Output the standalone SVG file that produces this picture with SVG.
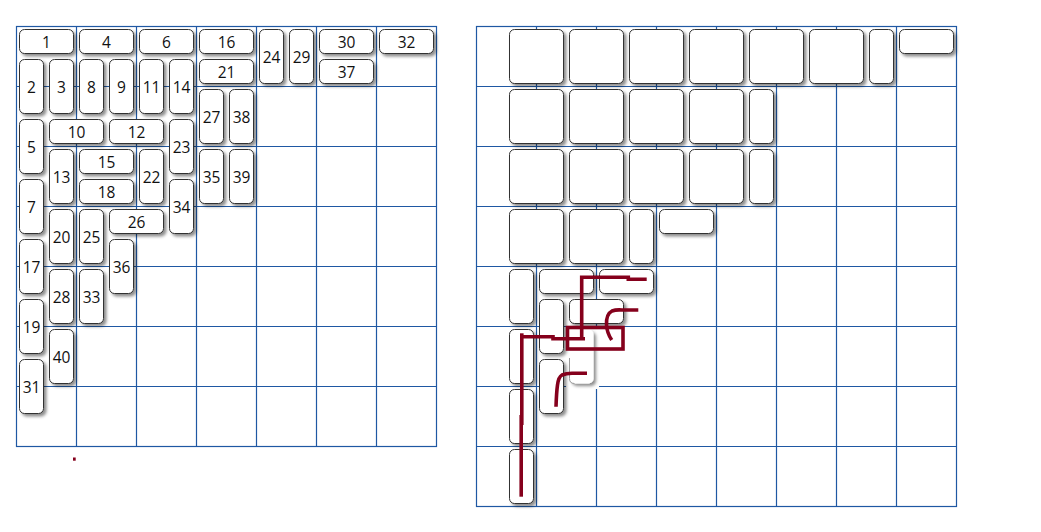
<svg xmlns="http://www.w3.org/2000/svg" width="1041" height="532" viewBox="0 0 1041 532">
<defs>
<filter id="sh" x="-30%" y="-30%" width="160%" height="160%">
<feDropShadow dx="2.5" dy="2.5" stdDeviation="1.8" flood-color="#000" flood-opacity="0.45"/>
</filter>
</defs>
<style>
.g{stroke:#1f58a3;stroke-width:1.2;fill:none}
.n rect{fill:#fff;stroke:#333;stroke-width:1;filter:url(#sh)}
.n text{font-family:"Open Sans","Liberation Sans",sans-serif;font-size:15.5px;fill:#111;text-anchor:middle}
.r{fill:none;stroke:#85001c;stroke-width:3.6;stroke-linecap:butt;stroke-linejoin:miter}
</style>
<rect width="1041" height="532" fill="#fff"/>
<g id="grid-left" class="g">
<rect x="16.5" y="26.5" width="420" height="420"/>
<path d="M76.5 26.5V446.5M136.5 26.5V446.5M196.5 26.5V446.5M256.5 26.5V446.5M316.5 26.5V446.5M376.5 26.5V446.5M16.5 86.5H436.5M16.5 146.5H436.5M16.5 206.5H436.5M16.5 266.5H436.5M16.5 326.5H436.5M16.5 386.5H436.5"/>
</g>
<g id="grid-right" class="g">
<rect x="476.5" y="26.5" width="480" height="480"/>
<path d="M536.5 26.5V506.5M596.5 26.5V506.5M656.5 26.5V506.5M716.5 26.5V506.5M776.5 26.5V506.5M836.5 26.5V506.5M896.5 26.5V506.5M476.5 86.5H956.5M476.5 146.5H956.5M476.5 206.5H956.5M476.5 266.5H956.5M476.5 326.5H956.5M476.5 386.5H956.5M476.5 446.5H956.5"/>
</g>
<g id="left-nodes">
<g id="n1" class="n"><rect x="19.5" y="29.5" width="54" height="24" rx="5"/><text x="46.5" y="48">1</text></g>
<g id="n4" class="n"><rect x="79.5" y="29.5" width="54" height="24" rx="5"/><text x="106.5" y="48">4</text></g>
<g id="n6" class="n"><rect x="139.5" y="29.5" width="54" height="24" rx="5"/><text x="166.5" y="48">6</text></g>
<g id="n16" class="n"><rect x="199.5" y="29.5" width="54" height="24" rx="5"/><text x="226.5" y="48">16</text></g>
<g id="n21" class="n"><rect x="199.5" y="59.5" width="54" height="24" rx="5"/><text x="226.5" y="78">21</text></g>
<g id="n24" class="n"><rect x="259.5" y="29.5" width="24" height="54" rx="5"/><text x="271.5" y="63">24</text></g>
<g id="n29" class="n"><rect x="289.5" y="29.5" width="24" height="54" rx="5"/><text x="301.5" y="63">29</text></g>
<g id="n30" class="n"><rect x="319.5" y="29.5" width="54" height="24" rx="5"/><text x="346.5" y="48">30</text></g>
<g id="n37" class="n"><rect x="319.5" y="59.5" width="54" height="24" rx="5"/><text x="346.5" y="78">37</text></g>
<g id="n32" class="n"><rect x="379.5" y="29.5" width="54" height="24" rx="5"/><text x="406.5" y="48">32</text></g>
<g id="n2" class="n"><rect x="19.5" y="59.5" width="24" height="54" rx="5"/><text x="31.5" y="93">2</text></g>
<g id="n3" class="n"><rect x="49.5" y="59.5" width="24" height="54" rx="5"/><text x="61.5" y="93">3</text></g>
<g id="n8" class="n"><rect x="79.5" y="59.5" width="24" height="54" rx="5"/><text x="91.5" y="93">8</text></g>
<g id="n9" class="n"><rect x="109.5" y="59.5" width="24" height="54" rx="5"/><text x="121.5" y="93">9</text></g>
<g id="n11" class="n"><rect x="139.5" y="59.5" width="24" height="54" rx="5"/><text x="151.5" y="93">11</text></g>
<g id="n14" class="n"><rect x="169.5" y="59.5" width="24" height="54" rx="5"/><text x="181.5" y="93">14</text></g>
<g id="n27" class="n"><rect x="199.5" y="89.5" width="24" height="54" rx="5"/><text x="211.5" y="123">27</text></g>
<g id="n38" class="n"><rect x="229.5" y="89.5" width="24" height="54" rx="5"/><text x="241.5" y="123">38</text></g>
<g id="n5" class="n"><rect x="19.5" y="119.5" width="24" height="54" rx="5"/><text x="31.5" y="153">5</text></g>
<g id="n10" class="n"><rect x="49.5" y="119.5" width="54" height="24" rx="5"/><text x="76.5" y="138">10</text></g>
<g id="n12" class="n"><rect x="109.5" y="119.5" width="54" height="24" rx="5"/><text x="136.5" y="138">12</text></g>
<g id="n23" class="n"><rect x="169.5" y="119.5" width="24" height="54" rx="5"/><text x="181.5" y="153">23</text></g>
<g id="n13" class="n"><rect x="49.5" y="149.5" width="24" height="54" rx="5"/><text x="61.5" y="183">13</text></g>
<g id="n15" class="n"><rect x="79.5" y="149.5" width="54" height="24" rx="5"/><text x="106.5" y="168">15</text></g>
<g id="n18" class="n"><rect x="79.5" y="179.5" width="54" height="24" rx="5"/><text x="106.5" y="198">18</text></g>
<g id="n22" class="n"><rect x="139.5" y="149.5" width="24" height="54" rx="5"/><text x="151.5" y="183">22</text></g>
<g id="n35" class="n"><rect x="199.5" y="149.5" width="24" height="54" rx="5"/><text x="211.5" y="183">35</text></g>
<g id="n39" class="n"><rect x="229.5" y="149.5" width="24" height="54" rx="5"/><text x="241.5" y="183">39</text></g>
<g id="n7" class="n"><rect x="19.5" y="179.5" width="24" height="54" rx="5"/><text x="31.5" y="213">7</text></g>
<g id="n34" class="n"><rect x="169.5" y="179.5" width="24" height="54" rx="5"/><text x="181.5" y="213">34</text></g>
<g id="n20" class="n"><rect x="49.5" y="209.5" width="24" height="54" rx="5"/><text x="61.5" y="243">20</text></g>
<g id="n25" class="n"><rect x="79.5" y="209.5" width="24" height="54" rx="5"/><text x="91.5" y="243">25</text></g>
<g id="n26" class="n"><rect x="109.5" y="209.5" width="54" height="24" rx="5"/><text x="136.5" y="228">26</text></g>
<g id="n17" class="n"><rect x="19.5" y="239.5" width="24" height="54" rx="5"/><text x="31.5" y="273">17</text></g>
<g id="n36" class="n"><rect x="109.5" y="239.5" width="24" height="54" rx="5"/><text x="121.5" y="273">36</text></g>
<g id="n28" class="n"><rect x="49.5" y="269.5" width="24" height="54" rx="5"/><text x="61.5" y="303">28</text></g>
<g id="n33" class="n"><rect x="79.5" y="269.5" width="24" height="54" rx="5"/><text x="91.5" y="303">33</text></g>
<g id="n19" class="n"><rect x="19.5" y="299.5" width="24" height="54" rx="5"/><text x="31.5" y="333">19</text></g>
<g id="n40" class="n"><rect x="49.5" y="329.5" width="24" height="54" rx="5"/><text x="61.5" y="363">40</text></g>
<g id="n31" class="n"><rect x="19.5" y="359.5" width="24" height="54" rx="5"/><text x="31.5" y="393">31</text></g>
</g>
<rect id="dot" x="73" y="457.5" width="2.7" height="3.2" fill="#85001c"/>
<rect id="eraser" x="566" y="328" width="33" height="61" fill="#fff"/>
<g id="right-nodes" class="n">
<rect x="509.5" y="29.5" width="54" height="54" rx="5"/>
<rect x="569.5" y="29.5" width="54" height="54" rx="5"/>
<rect x="629.5" y="29.5" width="54" height="54" rx="5"/>
<rect x="689.5" y="29.5" width="54" height="54" rx="5"/>
<rect x="749.5" y="29.5" width="54" height="54" rx="5"/>
<rect x="809.5" y="29.5" width="54" height="54" rx="5"/>
<rect x="869.5" y="29.5" width="24" height="54" rx="5"/>
<rect x="899.5" y="29.5" width="54" height="24" rx="5"/>
<rect x="509.5" y="89.5" width="54" height="54" rx="5"/>
<rect x="569.5" y="89.5" width="54" height="54" rx="5"/>
<rect x="629.5" y="89.5" width="54" height="54" rx="5"/>
<rect x="689.5" y="89.5" width="54" height="54" rx="5"/>
<rect x="749.5" y="89.5" width="24" height="54" rx="5"/>
<rect x="509.5" y="149.5" width="54" height="54" rx="5"/>
<rect x="569.5" y="149.5" width="54" height="54" rx="5"/>
<rect x="629.5" y="149.5" width="54" height="54" rx="5"/>
<rect x="689.5" y="149.5" width="54" height="54" rx="5"/>
<rect x="749.5" y="149.5" width="24" height="54" rx="5"/>
<rect x="509.5" y="209.5" width="54" height="54" rx="5"/>
<rect x="569.5" y="209.5" width="54" height="54" rx="5"/>
<rect x="629.5" y="209.5" width="24" height="54" rx="5"/>
<rect x="659.5" y="209.5" width="54" height="24" rx="5"/>
<rect x="509.5" y="269.5" width="24" height="54" rx="5"/>
<rect x="539.5" y="269.5" width="54" height="24" rx="5"/>
<rect x="599.5" y="269.5" width="54" height="24" rx="5"/>
<rect x="539.5" y="299.5" width="24" height="54" rx="5"/>
<rect x="569.5" y="299.5" width="54" height="24" rx="5"/>
<rect x="509.5" y="329.5" width="24" height="54" rx="5"/>
<rect x="539.5" y="359.5" width="24" height="54" rx="5"/>
<rect x="509.5" y="389.5" width="24" height="54" rx="5"/>
<rect x="509.5" y="449.5" width="24" height="54" rx="5"/>
<rect x="569.5" y="329.5" width="24" height="54" rx="5" style="stroke:none"/>
</g>
<path d="M569.5 358V378.5Q569.5 383.5 574.5 383.5" fill="none" stroke="#999" stroke-width="1"/>
<g id="connectors" class="r">
<path d="M521.8 333.3V425"/>
<path d="M521.2 415V496.7"/>
<path d="M520 336.7H553V338.7H585"/>
<path d="M581.7 338.3V277.3H628.3V279.3H646.7"/>
<rect x="567.5" y="327.5" width="55.5" height="21.5"/>
<path d="M611.7 340Q607 333 606.5 325Q606 314 612 311Q616 309.5 622 310H638.3"/>
<path d="M556 406.7Q556.5 392 557.5 385Q558.5 377 562 375Q566 373.3 572 373.3H587"/>
</g>
</svg>
